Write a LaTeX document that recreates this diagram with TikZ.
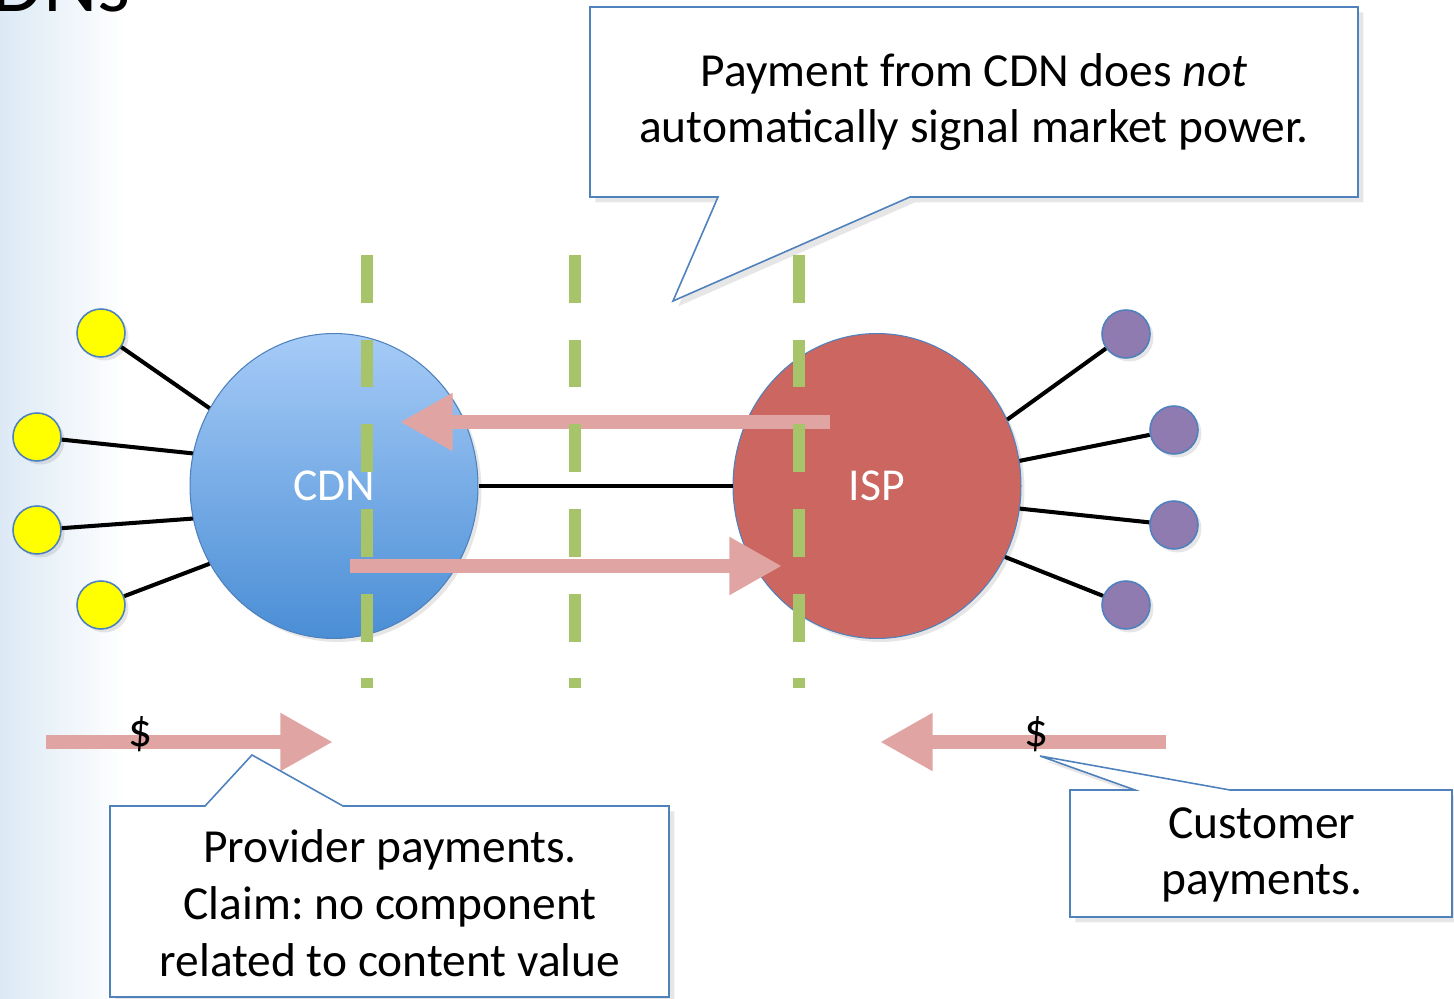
\documentclass[tikz,border=0pt]{standalone}
\usepackage{fontspec}
\setmainfont{Carlito}
\usepackage{tikz}
\usetikzlibrary{shapes.geometric,arrows.meta,shadows}
\frenchspacing
\definecolor{cdnblue}{HTML}{4A8ED5}
\definecolor{cdnlight}{HTML}{A6CBF7}
\definecolor{ispred}{HTML}{CC6660}
\definecolor{edgeblue}{HTML}{4F81BD}
\definecolor{leafyellow}{HTML}{FFFF00}
\definecolor{leafpurple}{HTML}{8F7BB0}
\definecolor{cutgreen}{HTML}{A8C46A}
\definecolor{flowpink}{HTML}{E0A5A3}
\definecolor{bandblue}{HTML}{DCE9F5}
\tikzset{
  hub/.style={ellipse, draw=edgeblue, line width=0.6pt, minimum width=5.76cm, minimum height=6.1cm,
    inner sep=0pt, text=white, font=\fontsize{26}{31}\selectfont,
    drop shadow={opacity=0.2, shadow xshift=2pt, shadow yshift=-2pt}},
  leaf/.style={circle, draw=edgeblue, line width=0.9pt, minimum size=0.96cm, inner sep=0pt,
    drop shadow={opacity=0.2, shadow xshift=2pt, shadow yshift=-2pt}},
  link/.style={draw=black, line width=2.3pt},
  cut/.style={draw=cutgreen, line width=6.8pt, dash pattern=on 27.2pt off 21pt},
  flow/.style={draw=flowpink, line width=8.5pt, -{Triangle[length=30pt,width=31pt]}},
  note/.style={draw=edgeblue, line width=0.9pt, fill=white,
    drop shadow={opacity=0.2, shadow xshift=3pt, shadow yshift=-3pt}},
  notetext/.style={align=center, font=\fontsize{27}{32.3}\selectfont},
  dollar/.style={font=\fontsize{27}{32.3}\selectfont}
}
\begin{document}
\begin{tikzpicture}[x=0.02cm, y=-0.02cm]
  \clip (0,0) rectangle (1454,999);
  \shade[left color=bandblue, right color=white] (0,0) rectangle (125,999);
  \node[anchor=base east, inner sep=0pt, font=\fontsize{48}{54}\selectfont] (title) at (131,12) {CDNs};

  % the two networks
  \node[hub, top color=cdnlight, bottom color=cdnblue] (cdn) at (334,486) {CDN};
  \node[hub, fill=ispred] (isp) at (877,486) {ISP};
  \draw[link] (cdn) -- (isp);

  \node[leaf, fill=leafyellow] (y1) at (101,333) {};
  \node[leaf, fill=leafyellow] (y2) at (37,437) {};
  \node[leaf, fill=leafyellow] (y3) at (37,530) {};
  \node[leaf, fill=leafyellow] (y4) at (101,605) {};
  \node[leaf, fill=leafpurple] (p1) at (1126,334) {};
  \node[leaf, fill=leafpurple] (p2) at (1174,430) {};
  \node[leaf, fill=leafpurple] (p3) at (1174,525) {};
  \node[leaf, fill=leafpurple] (p4) at (1126,605) {};

  \draw[link] (cdn.148) -- (y1);
  \draw[link] (cdn.167) -- (y2);
  \draw[link] (cdn.193) -- (y3);
  \draw[link] (cdn.212) -- (y4);
  \draw[link] (isp.27) -- (p1);
  \draw[link] (isp.10) -- (p2);
  \draw[link] (isp.351) -- (p3);
  \draw[link] (isp.331) -- (p4);

  % traffic between them
  \coordinate (backA) at (830,422);
  \coordinate (backB) at (400,422);
  \coordinate (fwdA) at (350,566);
  \coordinate (fwdB) at (782,566);
  \draw[flow] (backA) -- (backB);
  \draw[flow] (fwdA) -- (fwdB);

  % boundaries
  \foreach \x in {367,575,799}
    \draw[cut] (\x,255) -- (\x,688);

  % money
  \coordinate (provA) at (46,742);
  \coordinate (provB) at (333,742);
  \coordinate (custA) at (1166,742);
  \coordinate (custB) at (880,742);
  \draw[flow] (provA) -- (provB);
  \draw[flow] (custA) -- (custB);
  \node[dollar] (provcash) at (141,734) {\$};
  \node[dollar] (custcash) at (1037,734) {\$};

  % callouts
  \draw[note] (590,7) -- (1358,7) -- (1358,197) -- (910,197) -- (673,301) -- (718,197) -- (590,197) -- cycle;
  \node[notetext] (topnote) at (974,102) {Payment from CDN does \textit{not}\\automatically signal market power.};

  \draw[note] (110,806) -- (205,806) -- (252,755) -- (343,806) -- (669,806) -- (669,997) -- (110,997) -- cycle;
  \node[notetext] (provnote) at (390,903) {Provider payments.\\Claim: no component\\related to content value};

  \draw[note] (1070,790) -- (1135,790) -- (1040,756) -- (1230,790) -- (1452,790) -- (1452,917) -- (1070,917) -- cycle;
  \node[notetext] (custnote) at (1262,855) {Customer\\payments.};
\end{tikzpicture}
\end{document}
